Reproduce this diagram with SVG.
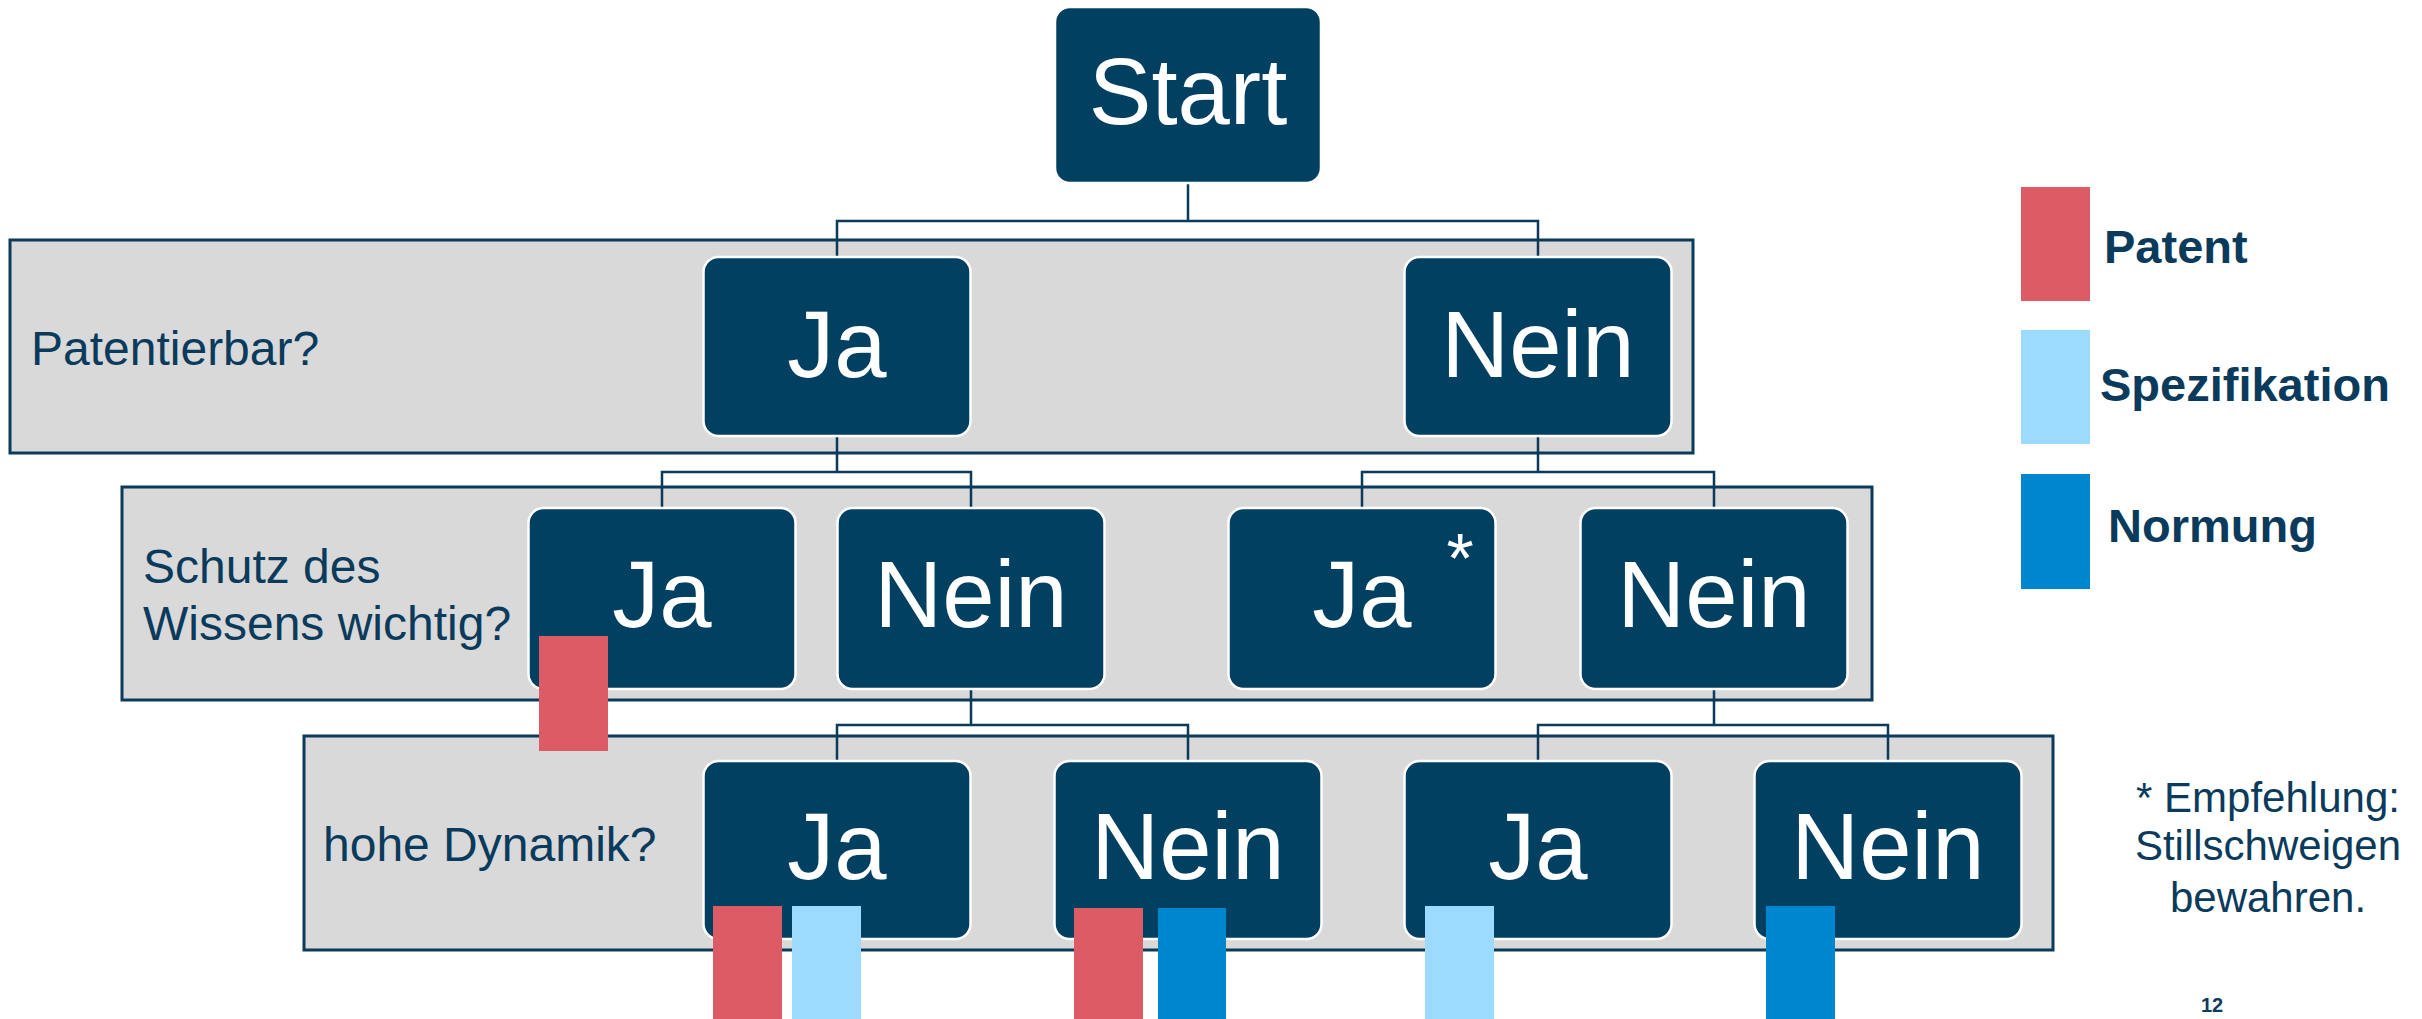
<svg xmlns="http://www.w3.org/2000/svg" width="2422" height="1019" viewBox="0 0 2422 1019">
<style>
.band{fill:#d9d9d9;stroke:#0b3a5a;stroke-width:3}
.box{fill:#024062;stroke:#ffffff;stroke-width:2.5}
.conn{fill:none;stroke:#0b3a5a;stroke-width:2.5}
.bt{font-family:"Liberation Sans",Arial,sans-serif;fill:#ffffff;text-anchor:middle}
.lbl{font-family:"Liberation Sans",Arial,sans-serif;fill:#0b3b5c;font-size:48px}
.leg{font-family:"Liberation Sans",Arial,sans-serif;fill:#0b3b5c;font-size:47px;font-weight:bold}
.red{fill:#dc5b64}
.lb{fill:#9cdbff}
.blue{fill:#0085cf}
</style>
<rect width="2422" height="1019" fill="#ffffff"/>
<g id="bands">
<rect class="band" x="10" y="240" width="1683" height="213"/>
<rect class="band" x="122" y="487" width="1750" height="213"/>
<rect class="band" x="304" y="736" width="1749" height="214"/>
<text class="lbl" x="31" y="365">Patentierbar?</text>
<text class="lbl" x="143" y="583">Schutz des</text>
<text class="lbl" x="143" y="640">Wissens wichtig?</text>
<text class="lbl" x="323" y="861">hohe Dynamik?</text>
</g>
<g id="connectors">
<path class="conn" d="M1188 183V221M837 257V221H1538V257"/>
<path class="conn" d="M837 436V472M662 508V472H971V508"/>
<path class="conn" d="M1538 436V472M1362 508V472H1714V508"/>
<path class="conn" d="M971 689V725M837 761V725H1188V761"/>
<path class="conn" d="M1714 689V725M1538 761V725H1888V761"/>
</g>
<g id="start"><rect class="box" x="1055" y="7" width="266" height="176" rx="15"/><text class="bt" x="1188" y="124" font-size="94">Start</text></g>
<g id="r1-ja"><rect class="box" x="703.500" y="257" width="267" height="179" rx="15"/><text class="bt" x="837" y="377" font-size="94">Ja</text></g>
<g id="r1-nein"><rect class="box" x="1404.500" y="257" width="267" height="179" rx="15"/><text class="bt" x="1538" y="377" font-size="94">Nein</text></g>
<g id="r2-ja1"><rect class="box" x="528.500" y="508" width="267" height="181" rx="15"/><text class="bt" x="662" y="627" font-size="94">Ja</text></g>
<g id="r2-nein1"><rect class="box" x="837.500" y="508" width="267" height="181" rx="15"/><text class="bt" x="971" y="627" font-size="94">Nein</text></g>
<g id="r2-ja2"><rect class="box" x="1228.500" y="508" width="267" height="181" rx="15"/><text class="bt" x="1362" y="627" font-size="94">Ja</text><text class="bt" x="1460" y="583" font-size="70">*</text></g>
<g id="r2-nein2"><rect class="box" x="1580.500" y="508" width="267" height="181" rx="15"/><text class="bt" x="1714" y="627" font-size="94">Nein</text></g>
<g id="r3-ja1"><rect class="box" x="703.500" y="761" width="267" height="178" rx="15"/><text class="bt" x="837" y="879" font-size="94">Ja</text></g>
<g id="r3-nein1"><rect class="box" x="1054.500" y="761" width="267" height="178" rx="15"/><text class="bt" x="1188" y="879" font-size="94">Nein</text></g>
<g id="r3-ja2"><rect class="box" x="1404.500" y="761" width="267" height="178" rx="15"/><text class="bt" x="1538" y="879" font-size="94">Ja</text></g>
<g id="r3-nein2"><rect class="box" x="1754.500" y="761" width="267" height="178" rx="15"/><text class="bt" x="1888" y="879" font-size="94">Nein</text></g>
<g id="bars">
<rect class="red" x="539" y="636" width="69" height="115"/>
<rect class="red" x="713" y="906" width="69" height="113"/>
<rect class="lb" x="792" y="906" width="69" height="113"/>
<rect class="red" x="1074" y="908" width="69" height="111"/>
<rect class="blue" x="1158" y="908" width="68" height="111"/>
<rect class="lb" x="1425" y="906" width="69" height="113"/>
<rect class="blue" x="1766" y="906" width="69" height="113"/>
</g>
<g id="legend">
<rect class="red" x="2021" y="187" width="69" height="114"/>
<rect class="lb" x="2021" y="330" width="69" height="114"/>
<rect class="blue" x="2021" y="474" width="69" height="115"/>
<text class="leg" x="2104" y="263">Patent</text>
<text class="leg" x="2100" y="401">Spezifikation</text>
<text class="leg" x="2108" y="542">Normung</text>
</g>
<g id="footnote" font-family="Liberation Sans, Arial, sans-serif" fill="#0b3b5c" text-anchor="middle">
<text x="2268" y="812" font-size="42">* Empfehlung:</text>
<text x="2268" y="860" font-size="42">Stillschweigen</text>
<text x="2268" y="912" font-size="42">bewahren.</text>
<text x="2212" y="1012" font-size="20" font-weight="bold">12</text>
</g>
</svg>
